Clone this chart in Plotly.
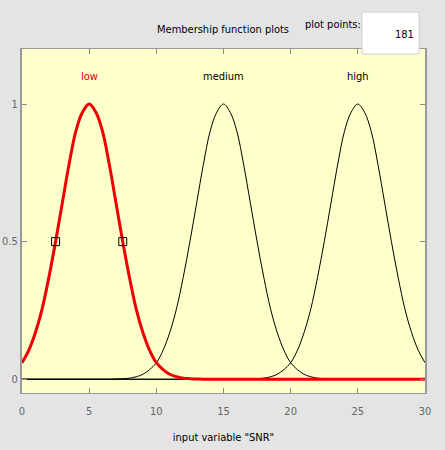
import plotly.graph_objects as go

# input variable SNR, sampled every 0.5 unit from 0 to 30
snr = [i * 0.5 for i in range(61)]

# membership values
low = [0.06, 0.105, 0.17, 0.256, 0.37, 0.5, 0.64, 0.78, 0.9, 0.97, 1.0,
       0.97, 0.9, 0.78, 0.64, 0.5, 0.37, 0.256, 0.17, 0.105, 0.06,
       0.035, 0.018, 0.009, 0.004, 0.002, 0.001,
       0, 0, 0, 0, 0, 0, 0, 0, 0, 0, 0, 0, 0, 0, 0, 0, 0,
       0, 0, 0, 0, 0, 0, 0, 0, 0, 0, 0, 0, 0, 0, 0, 0, 0]
medium = [0, 0, 0, 0, 0, 0, 0, 0, 0, 0, 0, 0, 0, 0,
          0.001, 0.002, 0.004, 0.009, 0.018, 0.035, 0.06, 0.105, 0.17, 0.256, 0.37,
          0.5, 0.64, 0.78, 0.9, 0.97, 1.0,
          0.97, 0.9, 0.78, 0.64, 0.5, 0.37, 0.256, 0.17, 0.105, 0.06,
          0.035, 0.018, 0.009, 0.004, 0.002, 0.001,
          0, 0, 0, 0, 0, 0, 0, 0, 0, 0, 0, 0, 0, 0]
high = [0, 0, 0, 0, 0, 0, 0, 0, 0, 0, 0, 0, 0, 0, 0, 0, 0,
        0, 0, 0, 0, 0, 0, 0, 0, 0, 0, 0, 0, 0, 0, 0, 0, 0,
        0.001, 0.002, 0.004, 0.009, 0.018, 0.035, 0.06, 0.105, 0.17, 0.256, 0.37,
        0.5, 0.64, 0.78, 0.9, 0.97, 1.0,
        0.97, 0.9, 0.78, 0.64, 0.5, 0.37, 0.256, 0.17, 0.105, 0.06]

mf_names = ['low', 'medium', 'high']
mf_centers = [5, 15, 25]
half_points_x = [2.5, 7.5]
half_points_y = [0.5, 0.5]
plot_points = '181'

FONT = 'DejaVu Sans Condensed, Liberation Sans Narrow, Arial Narrow, sans-serif'
BG = '#e4e4e4'

# pixel margins of the plot box
PL, PR, PT, PB = 22, 20, 49, 57
pw, ph = 445 - PL - PR, 450 - PT - PB


def px(x):
    return (x - PL) / pw


def py(y):
    return (450 - PB - y) / ph


fig = go.Figure()

# baseline along zero
fig.add_trace(go.Scatter(x=[0, 30], y=[0, 0], mode='lines',
                         line=dict(color='black', width=1.2), hoverinfo='skip'))
fig.add_trace(go.Scatter(x=snr, y=medium, mode='lines', line=dict(color='black', width=1, shape='spline'),
                         name='medium'))
fig.add_trace(go.Scatter(x=snr, y=high, mode='lines', line=dict(color='black', width=1, shape='spline'),
                         name='high'))
fig.add_trace(go.Scatter(x=snr, y=low, mode='lines', line=dict(color='#ee0000', width=3, shape='spline'),
                         name='low'))
fig.add_trace(go.Scatter(x=half_points_x, y=half_points_y, mode='markers',
                         marker=dict(symbol='square-open', size=8, color='black', line=dict(width=1))))

# curve labels
for name, c in zip(mf_names, mf_centers):
    fig.add_annotation(x=c, y=1.1, text=name, showarrow=False,
                       font=dict(family=FONT, size=11, color='#dd0000' if name == 'low' else 'black'))

fig.add_annotation(x=px(223), y=py(30), xref='paper', yref='paper', text='Membership function plots',
                   showarrow=False, xanchor='center', yanchor='middle',
                   font=dict(family=FONT, size=11, color='black'))
fig.add_annotation(x=px(333), y=py(24), xref='paper', yref='paper', text='plot points:',
                   showarrow=False, xanchor='center', yanchor='middle',
                   font=dict(family=FONT, size=11, color='black'))
fig.add_shape(type='rect', xref='paper', yref='paper', x0=px(362), x1=px(419), y0=py(54), y1=py(12),
              fillcolor='white', line=dict(color='#d0d0d0', width=1), layer='above')
fig.add_annotation(x=px(416), y=py(35), xref='paper', yref='paper', text=plot_points,
                   showarrow=False, xanchor='right', yanchor='middle',
                   font=dict(family=FONT, size=11, color='black'))

fig.update_layout(
    width=445, height=450,
    margin=dict(l=PL, r=PR, t=PT, b=PB),
    paper_bgcolor=BG,
    plot_bgcolor='#ffffcc',
    showlegend=False,
    font=dict(family=FONT, size=11, color='#666666'),
)
fig.update_xaxes(range=[0, 30], tickvals=[0, 5, 10, 15, 20, 25, 30], ticks='inside', ticklen=5,
                 tickcolor='#888888', showgrid=False, zeroline=False, showline=True, linecolor='#999999',
                 linewidth=1, mirror='ticks', automargin=False, ticklabelstandoff=8,
                 title=dict(text='input variable "SNR"', font=dict(family=FONT, size=11, color='black'),
                            standoff=16))
fig.update_yaxes(range=[-0.05, 1.2], tickvals=[0, 0.5, 1], ticktext=['0', '0.5', '1'], ticks='inside',
                 ticklen=5, tickcolor='#888888', showgrid=False, zeroline=False, showline=True,
                 linecolor='#999999', linewidth=2, mirror='ticks', automargin=False)

# drop the default page margin so the figure fills the window
fig.write_html('out.html', config={'displayModeBar': False},
               post_script="document.body.style.margin='0';document.body.style.background='%s';" % BG)
